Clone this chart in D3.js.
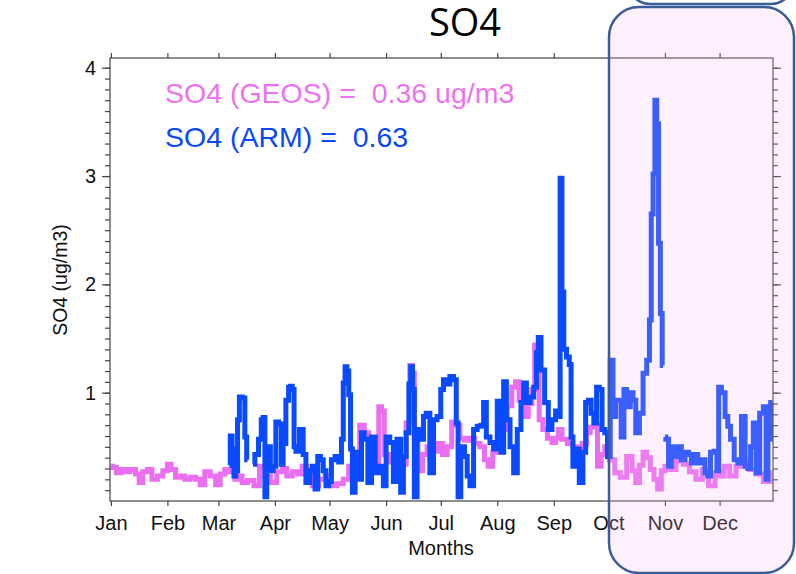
<!DOCTYPE html>
<html>
<head>
<meta charset="utf-8">
<script src="https://cdn.jsdelivr.net/npm/d3@7"></script>
<style>
  body { margin: 0; background: #fff; }
  svg { display: block; }
  text { white-space: pre; }
</style>
</head>
<body>
<svg width="796" height="574"></svg>
<script>
// month ticks (day of year of the 1st of each month)
const monthStarts = [0, 31, 59, 90, 120, 151, 181, 212, 243, 273, 304, 334];
const monthLabels = ['Jan', 'Feb', 'Mar', 'Apr', 'May', 'Jun', 'Jul', 'Aug', 'Sep', 'Oct', 'Nov', 'Dec'];
const yTicks = [1, 2, 3, 4];
const legendLabels = ['SO4 (GEOS) =  0.36 ug/m3', 'SO4 (ARM) =  0.63'];

// GEOS model SO4 (ug/m3), day of year
const geosDay = [0, 2, 4, 7, 9, 12, 15, 16, 19, 21, 24, 27, 30, 32, 34, 37, 39, 42, 45, 48,
  50, 53, 56, 59, 61, 64, 66, 70, 71, 73, 77, 80, 83, 86, 89, 93, 95, 98, 101, 104,
  106, 109, 112, 116, 119, 122, 126, 129, 132, 135, 138, 140, 143, 146, 148, 149, 151, 154, 157, 160,
  161, 163, 165, 166, 167, 170, 172, 175, 178, 181, 183, 186, 188, 190, 193, 195, 198, 201, 204, 206,
  208, 211, 213, 216, 219, 221, 223, 225, 228, 230, 232, 233, 234, 236, 238, 241, 243, 245, 246, 249,
  252, 255, 257, 260, 262, 264, 266, 268, 270, 272, 275, 278, 281, 285, 287, 289, 291, 293, 295, 297,
  299, 301, 303, 305, 308, 312, 316, 319, 323, 326, 330, 333, 335, 338, 341, 345, 349, 352, 356, 360, 363];
const geosVal = [0.32, 0.31, 0.26, 0.29, 0.27, 0.29, 0.25, 0.17, 0.27, 0.29, 0.20, 0.23, 0.28, 0.34, 0.29, 0.22, 0.23, 0.20, 0.22, 0.20,
  0.15, 0.27, 0.23, 0.15, 0.25, 0.29, 0.27, 0.20, 0.23, 0.17, 0.19, 0.14, 0.32, 0.23, 0.17, 0.27, 0.30, 0.23, 0.27, 0.25,
  0.32, 0.23, 0.14, 0.20, 0.23, 0.14, 0.16, 0.20, 0.32, 0.32, 0.70, 0.63, 0.28, 0.28, 0.87, 0.83, 0.43, 0.36, 0.34, 0.38,
  0.34, 0.72, 1.25, 1.18, 0.58, 0.28, 0.43, 0.50, 0.46, 0.53, 0.43, 0.50, 0.73, 0.70, 0.58, 0.56, 0.58, 0.53, 0.50, 0.38,
  0.32, 0.45, 0.48, 0.66, 0.88, 1.05, 1.10, 0.93, 0.78, 0.90, 1.03, 1.44, 1.38, 0.75, 0.66, 0.58, 0.54, 0.58, 0.66, 0.57,
  0.53, 0.50, 0.48, 0.53, 0.63, 0.68, 0.70, 0.32, 0.43, 0.50, 0.38, 0.26, 0.22, 0.41, 0.28, 0.17, 0.33, 0.45, 0.40, 0.29,
  0.20, 0.11, 0.28, 0.32, 0.29, 0.37, 0.34, 0.27, 0.20, 0.29, 0.14, 0.26, 0.23, 0.32, 0.23, 0.32, 0.36, 0.29, 0.25, 0.18, 0.26];

// ARM observed SO4 (ug/m3), day of year; null = no data
const armDay = [65, 66, 67, 68, 69, 70, 71, 73, 74, 75, 76, 78, 80, 82, 83, 84, 85, 86, 87, 88,
  90, 91, 93, 94, 95, 97, 98, 99, 100, 101, 102, 105, 106, 108, 110, 111, 113, 114, 116, 117,
  119, 120, 122, 124, 126, 127, 128, 129, 130, 131, 132, 133, 135, 137, 138, 140, 142, 144, 146, 149,
  150, 152, 154, 156, 158, 160, 161, 163, 164, 165, 166, 167, 169, 171, 172, 174, 176, 178, 180, 182,
  183, 185, 187, 189, 190, 191, 193, 195, 196, 198, 200, 202, 204, 205, 207, 209, 211, 213, 215, 216,
  218, 220, 222, 224, 226, 227, 229, 231, 233, 234, 235, 237, 239, 241, 243, 245, 246, 247, 248, 249,
  251, 252, 253, 254, 256, 258, 260, 261, 263, 264, 266, 267, 269, 270, 272, 273, 275, 276, 278, 279,
  281, 282, 284, 286, 287, 289, 291, 293, 295, 296, 297, 298, 299, 300, 301, 302, 303, 303.5, 304, 305,
  307, 308, 310, 312, 314, 316, 318, 319, 321, 323, 325, 327, 328, 330, 332, 333, 334, 336, 338, 339,
  341, 343, 345, 347, 349, 350, 352, 353, 355, 357, 359, 360, 361, 363];
const armVal = [0.33, 0.60, 0.48, 0.23, 0.28, 0.75, 0.96, 0.95, 0.59, 0.38, null, 0.34, 0.43, 0.57, 0.75, 0.77, 0.04, 0.34, 0.50, 0.28,
  0.32, 0.73, 0.71, 0.34, 0.53, 0.93, 1.05, 1.06, 1.03, 0.50, 0.46, 0.66, 0.43, 0.17, 0.28, 0.32, 0.11, 0.41, 0.38, 0.28,
  0.14, 0.18, 0.38, 0.41, 0.36, 0.57, 1.09, 1.24, 1.20, 0.98, 0.48, 0.08, 0.45, 0.20, 0.63, 0.57, 0.17, 0.59, 0.26, 0.32,
  0.14, 0.59, 0.54, 0.18, 0.57, 0.08, 0.41, 0.63, 1.08, 1.24, 1.03, 0.04, 0.66, 0.57, 0.78, 0.81, 0.26, 0.75, 0.78, 1.03,
  1.12, 1.08, 1.15, 1.12, 0.72, 0.04, 0.50, 0.41, 0.23, 0.14, 0.66, 0.69, 0.70, 0.91, 0.59, 0.54, 0.48, 0.92, 0.45, 1.10,
  0.75, 0.50, 0.26, 0.66, 0.91, 1.09, 0.91, 0.96, 1.05, 1.37, 1.51, 1.21, 0.91, 0.66, 0.75, 0.83, 0.78, 2.98, 1.93, 1.40,
  1.33, 1.26, 0.59, 0.32, 0.48, 0.17, 0.45, 0.91, 0.93, 0.81, 0.72, 1.05, 1.03, 0.66, 0.63, 0.41, 1.30, 0.78, 0.93, 0.93,
  0.59, 1.03, 0.87, 1.00, 0.93, 0.63, 0.81, 1.18, 1.30, 1.67, 2.65, 3.02, 3.70, 3.48, 2.38, 1.73, 1.25, null, 0.59, 0.57,
  0.32, 0.50, 0.41, 0.50, 0.38, 0.45, 0.43, 0.35, 0.43, 0.35, 0.38, 0.26, 0.23, 0.45, 0.46, 0.28, 1.05, 1.00, 0.78, 0.69,
  0.57, 0.38, 0.35, 0.78, 0.32, 0.30, 0.50, 0.72, 0.26, 0.81, 0.87, 0.20, 0.57, 0.91];

const svg = d3.select('svg');
const plotL = 110, plotR = 773, plotT = 58, plotB = 501;

const x = d3.scaleLinear().domain([-0.5, 363.3]).range([plotL, plotR]);
const y = d3.scaleLinear().domain([0, 4.09]).range([plotB, plotT]);
const minor = d3.range(1, 41).map(i => i / 10);

svg.append('defs').append('clipPath').attr('id', 'plot')
  .append('rect').attr('x', plotL).attr('y', plotT).attr('width', plotR - plotL).attr('height', plotB - plotT);

// ---- lines
const line = d3.line()
  .defined(d => d[1] != null)
  .curve(d3.curveStep)
  .x(d => x(d[0]))
  .y(d => y(d[1]));

const lines = svg.append('g').attr('clip-path', 'url(#plot)');
lines.append('path')
  .datum(geosDay.map((d, i) => [d, geosVal[i]]))
  .attr('d', line)
  .attr('fill', 'none').attr('stroke', '#ea6ef0').attr('stroke-width', 5)
  .attr('stroke-linejoin', 'miter');
lines.append('path')
  .datum(armDay.map((d, i) => [d, armVal[i]]))
  .attr('d', line)
  .attr('fill', 'none').attr('stroke', '#0a4aff').attr('stroke-width', 5)
  .attr('stroke-linejoin', 'miter');

// ---- axes
function styleAxis(g) {
  g.select('.domain').remove();
  g.selectAll('.tick line').attr('stroke', '#444').attr('stroke-width', 1.2);
  g.selectAll('.tick text').attr('fill', '#111')
    .style('font-family', '"Liberation Sans", Arial, sans-serif').style('font-size', '20px');
}

svg.append('g').attr('transform', `translate(0,${plotB})`)
  .call(d3.axisBottom(x).tickValues(monthStarts).tickFormat((d, i) => monthLabels[i]).tickSize(5).tickPadding(10))
  .call(styleAxis);
svg.append('g').attr('transform', `translate(0,${plotT})`)
  .call(d3.axisTop(x).tickValues(monthStarts).tickFormat('').tickSize(5))
  .call(styleAxis);
svg.append('g').attr('transform', `translate(${plotL},0)`)
  .call(d3.axisLeft(y).tickValues(minor).tickFormat('').tickSize(5))
  .call(styleAxis);
svg.append('g').attr('transform', `translate(${plotL},0)`)
  .call(d3.axisLeft(y).tickValues(yTicks).tickFormat(d3.format('d')).tickSize(8).tickPadding(6))
  .call(styleAxis);
svg.append('g').attr('transform', `translate(${plotR},0)`)
  .call(d3.axisRight(y).tickValues(minor).tickFormat('').tickSize(5))
  .call(styleAxis);
svg.append('g').attr('transform', `translate(${plotR},0)`)
  .call(d3.axisRight(y).tickValues(yTicks).tickFormat('').tickSize(8))
  .call(styleAxis);

svg.append('rect')
  .attr('x', plotL).attr('y', plotT).attr('width', plotR - plotL).attr('height', plotB - plotT)
  .attr('fill', 'none').attr('stroke', '#444').attr('stroke-width', 1.2);

// ---- texts
const sans = '"Liberation Sans", Arial, sans-serif';
svg.append('text').attr('x', 441).attr('y', 555).attr('text-anchor', 'middle')
  .style('font-family', sans).style('font-size', '20px').attr('fill', '#111').text('Months');
svg.append('text').attr('transform', 'translate(67,280) rotate(-90)').attr('text-anchor', 'middle')
  .style('font-family', sans).style('font-size', '19.5px').attr('fill', '#111').text('SO4 (ug/m3)');

svg.append('text').attr('x', 165).attr('y', 103)
  .style('font-family', sans).style('font-size', '28.5px').attr('fill', '#ee72ee').text(legendLabels[0]);
svg.append('text').attr('x', 165).attr('y', 147)
  .style('font-family', sans).style('font-size', '28.5px').attr('fill', '#0a48f5').text(legendLabels[1]);

svg.append('text').attr('x', 465).attr('y', 36).attr('text-anchor', 'middle')
  .style('font-family', '"Open Sans", sans-serif').style('font-size', '38px').attr('fill', '#000').text('SO4');

// ---- highlight boxes
svg.append('rect')
  .attr('x', 628).attr('y', -60).attr('width', 165).attr('height', 64).attr('rx', 22)
  .attr('fill', '#fff').attr('stroke', '#3b5c99').attr('stroke-width', 2.5);
svg.append('rect')
  .attr('x', 609).attr('y', 7).attr('width', 185).attr('height', 566).attr('rx', 30)
  .attr('fill', 'rgba(250,180,240,0.2)').attr('stroke', '#3b5c99').attr('stroke-width', 2.5);
</script>
</body>
</html>
